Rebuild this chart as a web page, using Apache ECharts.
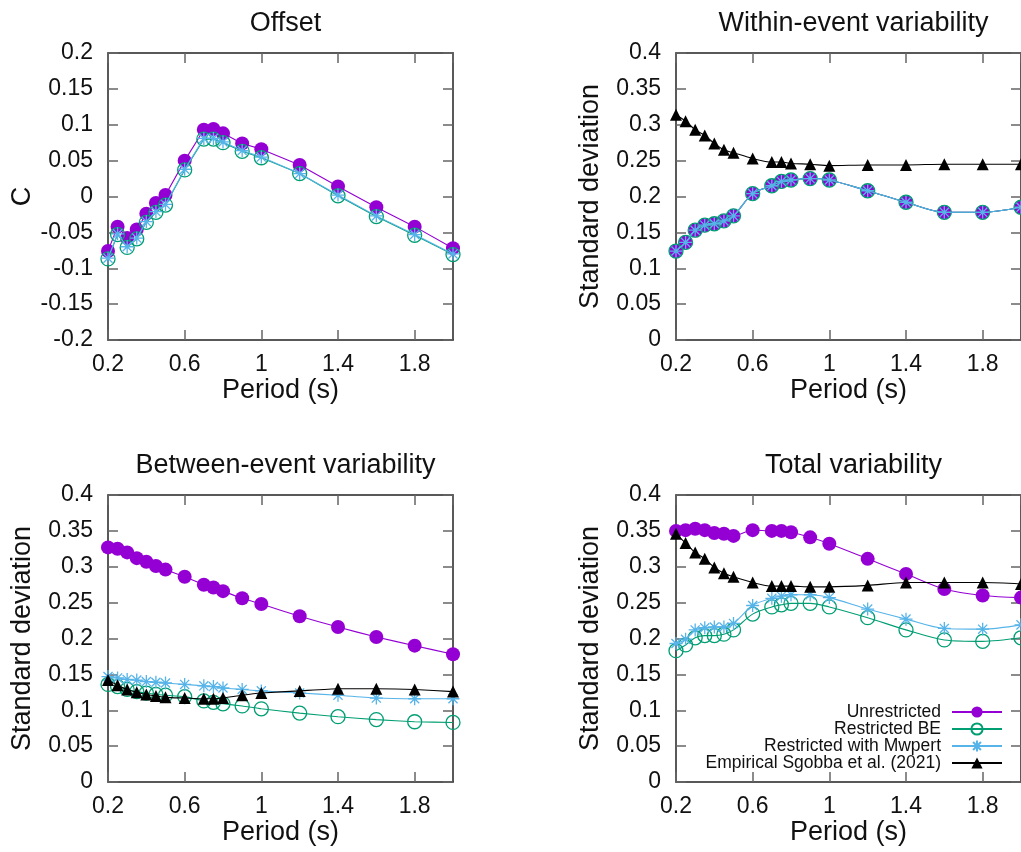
<!DOCTYPE html>
<html>
<head>
<meta charset="utf-8">
<script src="https://cdn.jsdelivr.net/npm/echarts@6/dist/echarts.min.js"></script>
<style>
html,body{margin:0;padding:0;background:#fff;}
#chart{width:1021px;height:852px;}
</style>
</head>
<body>
<div id="chart"></div>
<script>
// ---- data ----
const period = [0.2,0.25,0.3,0.35,0.4,0.45,0.5,0.6,0.7,0.75,0.8,0.9,1.0,1.2,1.4,1.6,1.8,2.0];

const panelTitles = ['Offset','Within-event variability','Between-event variability','Total variability'];
const yNames = ['C','Standard deviation','Standard deviation','Standard deviation'];
const seriesNames = ['Unrestricted','Restricted BE','Restricted with Mwpert','Empirical Sgobba et al. (2021)'];

const offsetUnr = [-0.076,-0.042,-0.058,-0.046,-0.024,-0.009,0.002,0.050,0.093,0.094,0.088,0.074,0.066,0.044,0.014,-0.015,-0.042,-0.072];
const offsetBE  = [-0.087,-0.053,-0.071,-0.059,-0.036,-0.022,-0.012,0.037,0.080,0.080,0.075,0.063,0.054,0.032,0.001,-0.028,-0.054,-0.081];
const offsetMw  = [-0.086,-0.052,-0.070,-0.058,-0.035,-0.021,-0.011,0.038,0.081,0.081,0.076,0.064,0.055,0.032,0.002,-0.027,-0.053,-0.080];

const withinUnr = [0.124,0.136,0.153,0.160,0.162,0.166,0.173,0.204,0.215,0.221,0.223,0.225,0.223,0.208,0.192,0.178,0.178,0.185];
const withinBE  = [0.124,0.136,0.153,0.160,0.162,0.166,0.173,0.204,0.215,0.221,0.223,0.225,0.223,0.208,0.192,0.178,0.178,0.185];
const withinMw  = [0.124,0.136,0.153,0.160,0.162,0.166,0.173,0.204,0.215,0.221,0.223,0.225,0.223,0.208,0.192,0.178,0.178,0.185];
const withinEmp = [0.314,0.305,0.293,0.285,0.274,0.265,0.261,0.253,0.248,0.248,0.246,0.245,0.243,0.244,0.244,0.245,0.245,0.245];

const betweenUnr = [0.327,0.325,0.320,0.312,0.307,0.301,0.296,0.286,0.275,0.271,0.266,0.256,0.248,0.231,0.216,0.202,0.190,0.178];
const betweenBE  = [0.136,0.133,0.129,0.126,0.124,0.122,0.121,0.119,0.113,0.111,0.109,0.106,0.102,0.096,0.091,0.087,0.084,0.083];
const betweenMw  = [0.147,0.145,0.143,0.142,0.140,0.139,0.138,0.136,0.134,0.133,0.131,0.129,0.127,0.124,0.121,0.117,0.116,0.116];
const betweenEmp = [0.142,0.135,0.129,0.125,0.122,0.120,0.118,0.117,0.116,0.116,0.117,0.121,0.124,0.127,0.130,0.130,0.129,0.126];

const totalUnr = [0.350,0.351,0.353,0.351,0.347,0.346,0.343,0.351,0.350,0.350,0.348,0.341,0.332,0.311,0.290,0.269,0.260,0.257];
const totalBE  = [0.183,0.191,0.201,0.204,0.204,0.206,0.212,0.234,0.244,0.247,0.249,0.249,0.244,0.229,0.212,0.198,0.196,0.201];
const totalMw  = [0.193,0.199,0.212,0.215,0.216,0.216,0.221,0.246,0.256,0.259,0.261,0.261,0.257,0.241,0.227,0.214,0.213,0.219];
const totalEmp = [0.346,0.333,0.320,0.311,0.299,0.291,0.286,0.278,0.273,0.273,0.273,0.272,0.272,0.274,0.278,0.278,0.278,0.276];

const xTicks = [0.2,0.6,1.0,1.4,1.8];
const yRanges = [[-0.2,0.2],[0,0.4],[0,0.4],[0,0.4]];

// ---- styling ----
const FONT = "'Liberation Sans', Arial, Helvetica, sans-serif";
const colUnr = '#9400D3', colBE = '#009E73', colMw = '#56B4E9', colEmp = '#000000';
const starPath = 'path://M0,-10 L0,10 M-10,0 L10,0 M-7,-7 L7,7 M-7,7 L7,-7';

const grids = [
  {left:108, top:53, width:345, height:287},
  {left:676, top:53, width:345, height:287},
  {left:108, top:495, width:345, height:287},
  {left:676, top:495, width:345, height:287}
];

const panelData = [
  [offsetUnr, offsetBE, offsetMw, null],
  [withinUnr, withinBE, withinMw, withinEmp],
  [betweenUnr, betweenBE, betweenMw, betweenEmp],
  [totalUnr, totalBE, totalMw, totalEmp]
];
const smoothFlags = [false, 0.3, 0.15, 0.3];

const axisLineStyle = {color:'#222', width:1.5};
const tickStyle = {color:'#666', width:1.5};

const xAxes = [], yAxes = [], series = [], titles = [];
grids.forEach((g, gi) => {
  titles.push({
    text: panelTitles[gi],
    left: g.left + g.width/2,
    top: g.top - 48,
    textAlign: 'center',
    textStyle: {fontFamily: FONT, fontSize: 27, fontWeight: 'normal', color: '#111'}
  });
  const xBase = {
    type:'value', gridIndex: gi, min: 0.2, max: 2.0, interval: 0.4,
    splitLine:{show:false},
    axisLine:{show:true, onZero:false, lineStyle:axisLineStyle},
    axisTick:{show:true, inside:true, length:10, lineStyle:tickStyle}
  };
  xAxes.push(Object.assign({}, xBase, {
    position:'bottom',
    name:'Period (s)', nameLocation:'middle', nameGap:34,
    nameTextStyle:{fontFamily:FONT, fontSize:27, color:'#111'},
    axisLabel:{show:true, margin:13, fontFamily:FONT, fontSize:23, color:'#111',
      showMaxLabel:false,
      formatter: v => (xTicks.some(t => Math.abs(t - v) < 1e-6) ? String(+v.toFixed(2)) : '')}
  }));
  xAxes.push(Object.assign({}, xBase, {position:'top', axisLabel:{show:false}}));
  const yr = yRanges[gi];
  const yBase = {
    type:'value', gridIndex: gi, min: yr[0], max: yr[1], interval: 0.05,
    splitLine:{show:false},
    axisLine:{show:true, onZero:false, lineStyle:axisLineStyle},
    axisTick:{show:true, inside:true, length:10, lineStyle:tickStyle}
  };
  yAxes.push(Object.assign({}, yBase, {
    position:'left',
    name: yNames[gi], nameLocation:'middle', nameGap:72,
    nameTextStyle:{fontFamily:FONT, fontSize:27, color:'#111'},
    axisLabel:{show:true, margin:15, fontFamily:FONT, fontSize:23, color:'#111',
      formatter: v => String(+v.toFixed(2))}
  }));
  yAxes.push(Object.assign({}, yBase, {position:'right', axisLabel:{show:false}}));

  const styles = [
    {symbol:'circle', symbolSize:14, color:colUnr, item:{color:colUnr}},
    {symbol:'circle', symbolSize:14, color:colBE, item:{color:'rgba(0,0,0,0)', borderColor:colBE, borderWidth:1.3}},
    {symbol:starPath, symbolSize:13, color:colMw, item:{color:'rgba(0,0,0,0)', borderColor:colMw, borderWidth:1.3}},
    {symbol:'triangle', symbolSize:12, color:colEmp, item:{color:colEmp}}
  ];
  panelData[gi].forEach((arr, si) => {
    if (!arr) return;
    const st = styles[si];
    series.push({
      name: seriesNames[si],
      type:'line',
      xAxisIndex: gi*2, yAxisIndex: gi*2,
      data: period.map((p, i) => [p, arr[i]]),
      smooth: smoothFlags[gi],
      symbol: st.symbol, symbolSize: st.symbolSize, showSymbol: true,
      color: st.color,
      lineStyle:{color: st.color, width:1.1},
      itemStyle: st.item,
      emphasis:{disabled:true},
      z: 2 + si
    });
  });
});

const chart = echarts.init(document.getElementById('chart'), null, {renderer:'canvas'});
chart.setOption({
  animation:false,
  backgroundColor:'#ffffff',
  title: titles,
  grid: grids,
  xAxis: xAxes,
  yAxis: yAxes,
  legend: {
    data: seriesNames,
    orient:'vertical',
    align:'right',
    right:13,
    top:698,
    padding:5,
    itemWidth:50,
    itemHeight:14,
    itemGap:-1,
    selectedMode:false,
    textStyle:{fontFamily:FONT, fontSize:17.5, color:'#111', lineHeight:16, padding:[0,6,0,0]}
  },
  series: series
});
</script>
</body>
</html>
